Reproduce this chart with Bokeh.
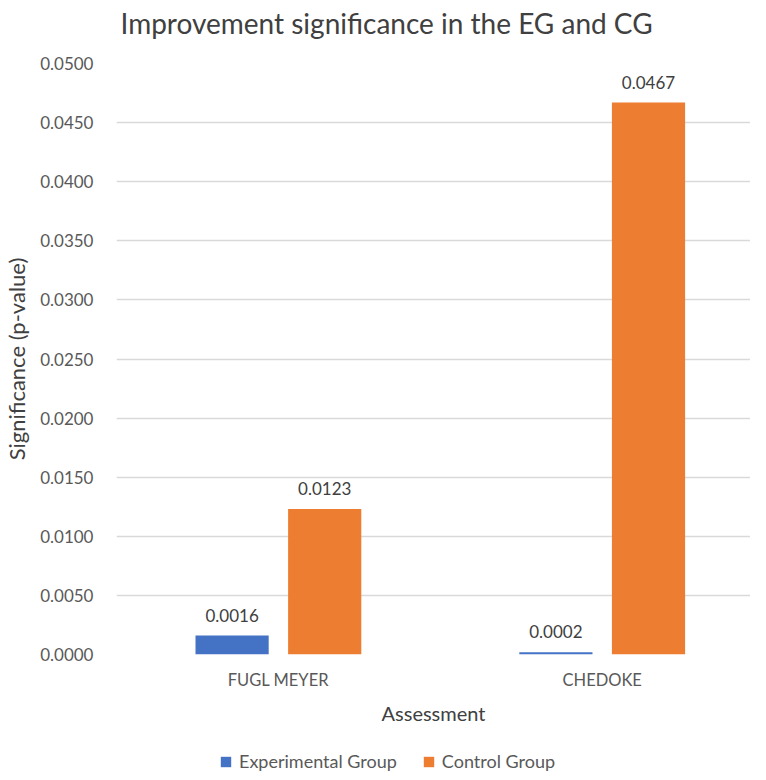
from bokeh.plotting import figure
from bokeh.layouts import column
from bokeh.models import (ColumnDataSource, Range1d, FixedTicker, NumeralTickFormatter,
                          Legend, LegendItem, LabelSet, Label)
from bokeh.core.properties import value
from bokeh.transform import dodge
from bokeh.embed import file_html
from bokeh.resources import INLINE

title_text = "Improvement significance in the EG and CG"
categories = ["FUGL MEYER", "CHEDOKE"]
series_names = ["Experimental Group", "Control Group"]
experimental = [0.0016, 0.0002]
control = [0.0123, 0.0467]
y_ticks = [0.0, 0.005, 0.01, 0.015, 0.02, 0.025, 0.03, 0.035, 0.04, 0.045, 0.05]

FONT = "Lato"
BLUE = "#4472C4"
ORANGE = "#ED7D31"

xpos = [i + 0.5 for i in range(len(categories))]
src = ColumnDataSource(dict(
    x=xpos,
    eg=experimental,
    cg=control,
    eg_lab=[f"{v:.4f}" for v in experimental],
    cg_lab=[f"{v:.4f}" for v in control],
))

# ---- title strip (its frame is aligned with the chart's frame) ----
tf = figure(width=750, height=45, output_backend="svg", toolbar_location=None,
            x_range=Range1d(0, 750), y_range=Range1d(0, 45),
            x_axis_location=None, y_axis_location=None,
            min_border_left=0, min_border_right=0, min_border_top=0, min_border_bottom=0)
tf.outline_line_color = None
tf.xgrid.grid_line_color = None
tf.ygrid.grid_line_color = None
tf.add_layout(Label(x=4, y=23, x_units="screen", y_units="screen", text=title_text,
                    text_font=FONT, text_font_size="28px", text_color="#404040",
                    text_align="left", text_baseline="middle"))

# ---- main chart ----
p = figure(width=750, height=703, output_backend="svg", toolbar_location=None,
           x_range=Range1d(0, 1.958), y_range=Range1d(0, 0.05),
           min_border_left=100, min_border_right=0, min_border_top=18,
           min_border_bottom=94)
p.outline_line_color = None

bw = 0.226
off = 0.143
r1 = p.vbar(x=dodge("x", -off, range=p.x_range), top="eg", width=bw, source=src,
            fill_color=BLUE, line_color=None)
r2 = p.vbar(x=dodge("x", off, range=p.x_range), top="cg", width=bw, source=src,
            fill_color=ORANGE, line_color=None)

for col, lab, o in (("eg", "eg_lab", -off), ("cg", "cg_lab", off)):
    ls = LabelSet(x=dodge("x", o, range=p.x_range), y=col, text=lab, source=src,
                  text_align="center", text_baseline="bottom", y_offset=14,
                  text_font=value(FONT), text_font_size=value("17px"),
                  text_color="#404040")
    p.add_layout(ls)

p.yaxis.ticker = FixedTicker(ticks=y_ticks)
p.yaxis.formatter = NumeralTickFormatter(format="0.0000")
p.yaxis.axis_line_color = None
p.yaxis.major_tick_line_color = None
p.yaxis.minor_tick_line_color = None
p.yaxis.major_label_standoff = 17
p.yaxis.major_label_text_font = FONT
p.yaxis.major_label_text_font_size = "17px"
p.yaxis.major_label_text_color = "#595959"
p.yaxis.axis_label = "Significance (p-value)"
p.yaxis.axis_label_text_font = FONT
p.yaxis.axis_label_text_font_size = "22px"
p.yaxis.axis_label_text_font_style = "normal"
p.yaxis.axis_label_text_color = "#404040"
p.yaxis.axis_label_standoff = 7

p.xaxis.ticker = FixedTicker(ticks=xpos)
p.xaxis.major_label_overrides = {x: c for x, c in zip(xpos, categories)}
p.xaxis.axis_line_color = None
p.xaxis.major_tick_line_color = None
p.xaxis.minor_tick_line_color = None
p.xaxis.major_label_standoff = 9
p.xaxis.major_label_text_font = FONT
p.xaxis.major_label_text_font_size = "16.5px"
p.xaxis.major_label_text_color = "#595959"
p.xaxis.axis_label = "Assessment"
p.xaxis.axis_label_text_font = FONT
p.xaxis.axis_label_text_font_size = "20px"
p.xaxis.axis_label_text_font_style = "normal"
p.xaxis.axis_label_text_color = "#404040"
p.xaxis.axis_label_standoff = 8

p.xgrid.grid_line_color = None
p.ygrid.ticker = FixedTicker(ticks=y_ticks)
p.ygrid.grid_line_color = "#D9D9D9"
p.ygrid.grid_line_width = 1.5

# ---- legend strip (its bars fall outside its visible range) ----
lf = figure(width=750, height=24, output_backend="svg", toolbar_location=None,
            x_range=Range1d(0, 2), y_range=Range1d(1, 2),
            x_axis_location=None, y_axis_location=None,
            min_border_left=0, min_border_right=0, min_border_top=0, min_border_bottom=0)
lf.outline_line_color = None
lf.xgrid.grid_line_color = None
lf.ygrid.grid_line_color = None
lr1 = lf.vbar(x="x", top="eg", width=bw, source=src, fill_color=BLUE, line_color=None)
lr2 = lf.vbar(x="x", top="cg", width=bw, source=src, fill_color=ORANGE, line_color=None)
legend = Legend(items=[LegendItem(label=series_names[0], renderers=[lr1]),
                       LegendItem(label=series_names[1], renderers=[lr2])],
                orientation="horizontal", location=(103, 0),
                label_text_font=FONT, label_text_font_size="18px",
                label_text_color="#595959", glyph_width=13, glyph_height=13,
                spacing=25, border_line_color=None, background_fill_alpha=0,
                padding=0, margin=0, label_standoff=7)
lf.add_layout(legend, "center")

open("out.html", "w").write(file_html(column(tf, p, lf), INLINE))
